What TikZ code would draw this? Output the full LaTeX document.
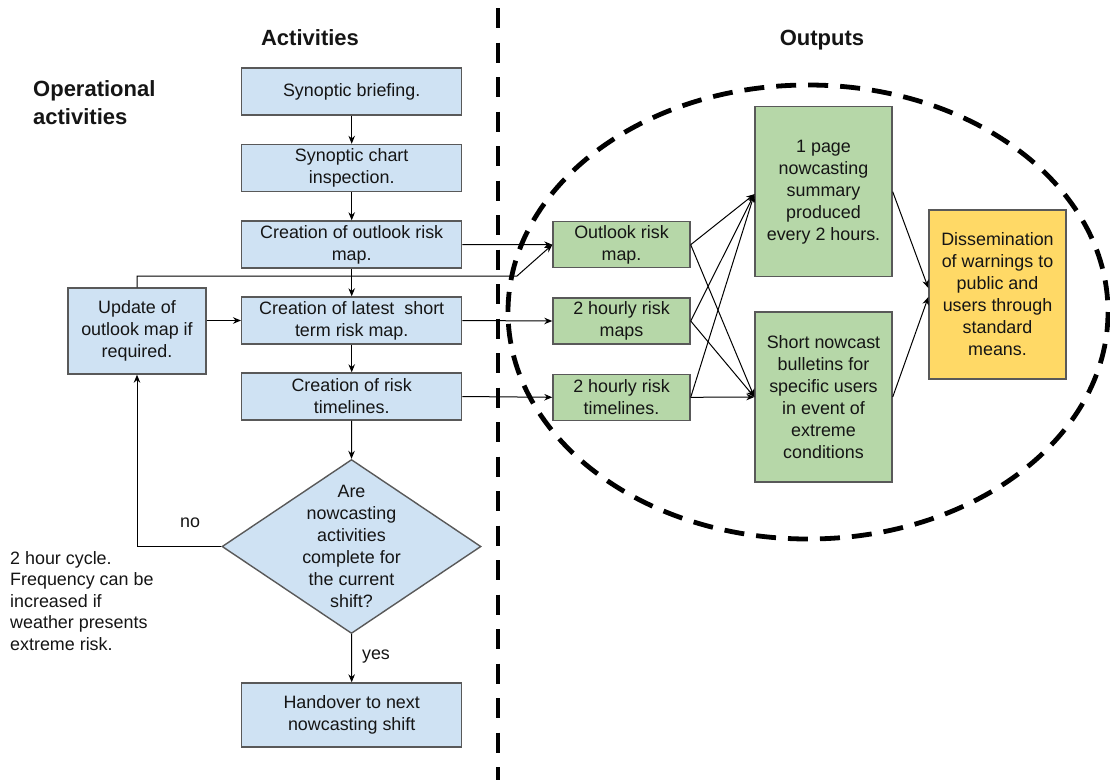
\documentclass[tikz,border=0pt]{standalone}
\usepackage{fontspec}
\setmainfont{Liberation Sans}
\usetikzlibrary{shapes.geometric,arrows.meta,calc}
\definecolor{bluefill}{HTML}{CFE2F3}
\definecolor{greenfill}{HTML}{B6D7A8}
\definecolor{yellowfill}{HTML}{FFD966}
\definecolor{boxline}{HTML}{595959}
\definecolor{txt}{HTML}{151515}
\tikzset{
  basebox/.style={draw=boxline, line width=1.4pt, inner sep=0pt, align=center, text=txt,
    font=\fontsize{17.9}{22}\selectfont},
  bluebox/.style={basebox, fill=bluefill},
  greenbox/.style={basebox, fill=greenfill},
  yellowbox/.style={basebox, fill=yellowfill},
  arr/.style={draw=black, line width=1pt, -{Stealth[length=8pt,width=6.5pt]}},
  title/.style={font=\fontsize{22}{28}\selectfont\bfseries, text=txt, inner sep=0pt},
  note/.style={font=\fontsize{17.9}{21.5}\selectfont, text=txt, align=left, inner sep=0pt},
  bigdash/.style={draw=black, line width=4.8pt},
}
\begin{document}
\begin{tikzpicture}[x=1pt,y=-1pt]
\useasboundingbox (0,0) rectangle (1110,780);
\fill[white] (0,0) rectangle (1110,780);

% dashed separators
\draw[bigdash, dash pattern=on 20pt off 14.5pt] (498,8) -- (498,780);
\draw[bigdash, dash pattern=on 20pt off 12pt] (808,312) ellipse [x radius=300, y radius=227];

% titles
\node[title, anchor=base] (tact) at (310,45) {Activities};
\node[title, anchor=base] (tout) at (822,45) {Outputs};
\node[title, anchor=west, align=left] (top) at (33,103) {Operational\\activities};
\node[note, anchor=west] (cyc) at (10,601) {2 hour cycle.\\Frequency can be\\increased if\\weather presents\\extreme risk.};

% activity boxes
\node[bluebox, minimum width=220pt, minimum height=47pt] (b1) at (351.7,91.5) {Synoptic briefing.};
\node[bluebox, minimum width=220pt, minimum height=47pt] (b2) at (351.7,168) {Synoptic chart\\inspection.};
\node[bluebox, minimum width=220pt, minimum height=47pt] (b3) at (351.7,244.5) {Creation of outlook risk\\map.};
\node[bluebox, minimum width=220pt, minimum height=47pt] (b4) at (351.7,320.5) {Creation of latest\ \ short\\term risk map.};
\node[bluebox, minimum width=220pt, minimum height=47pt] (b5) at (351.7,396.5) {Creation of risk\\timelines.};
\node[bluebox, minimum width=138pt, minimum height=86pt] (upd) at (137,331) {Update of\\outlook map if\\required.};
\node[bluebox, shape=diamond, minimum width=259pt, minimum height=174pt] (dec) at (351.5,546.5) {};
\node[font=\fontsize{17.9}{22}\selectfont, text=txt, align=center] (dect) at (dec.center) {Are\\nowcasting\\activities\\complete for\\the current\\shift?};
\node[bluebox, minimum width=220pt, minimum height=64pt] (hand) at (351.7,715) {Handover to next\\nowcasting shift};

% output boxes
\node[greenbox, minimum width=137pt, minimum height=46pt] (o1) at (621.5,244.7) {Outlook risk\\map.};
\node[greenbox, minimum width=137pt, minimum height=46pt] (o2) at (621.5,321) {2 hourly risk\\maps};
\node[greenbox, minimum width=137pt, minimum height=46pt] (o3) at (621.5,397.3) {2 hourly risk\\timelines.};
\node[greenbox, minimum width=137pt, minimum height=170pt] (big1) at (823.5,191.7) {1 page\\nowcasting\\summary\\produced\\every 2 hours.};
\node[greenbox, minimum width=137pt, minimum height=170pt] (big2) at (823.5,397) {Short nowcast\\bulletins for\\specific users\\in event of\\extreme\\conditions};
\node[yellowbox, minimum width=137pt, minimum height=169pt] (diss) at (997.5,294.5) {Dissemination\\of warnings to\\public and\\users through\\standard\\means.};

% labels
\node[note] (lno) at (190,523) {no};
\node[note] (lyes) at (376,657) {yes};

% junction coordinates
\coordinate (j) at (517,276);
\coordinate (in1) at ($(big1.west)+(0,2.5)$);
\coordinate (in2) at (big2.west);
\coordinate (d1) at ($(diss.west)+(0,-6.5)$);
\coordinate (d2) at ($(diss.west)+(0,2.5)$);

% vertical flow
\draw[arr] (b1.south) -- (b2.north);
\draw[arr] (b2.south) -- (b3.north);
\draw[arr] (upd.north) |- (j) -- (o1.west);
\draw[arr] (b3.south) -- (b4.north);
\draw[arr] (b4.south) -- (b5.north);
\draw[arr] (b5.south) -- (dec.north);
\draw[arr] (dec.south) -- (hand.north);
\draw[arr] (dec.west) -| (upd.south);
\draw[arr] (upd.east |- b4.west) -- (b4.west);

% to outputs
\draw[arr] (b3.east) -- (o1.west);
\draw[arr] (b4.east) -- (o2.west);
\draw[arr] (b5.east) -- (o3.west);

% cross connections
\draw[arr] (o1.east) -- (in1);
\draw[arr] (o1.east) -- (in2);
\draw[arr] (o2.east) -- (in1);
\draw[arr] (o2.east) -- (in2);
\draw[arr] (o3.east) -- (in1);
\draw[arr] (o3.east) -- (in2);
\draw[arr] (big1.east) -- (d1);
\draw[arr] (big2.east) -- (d2);
\end{tikzpicture}
\end{document}
